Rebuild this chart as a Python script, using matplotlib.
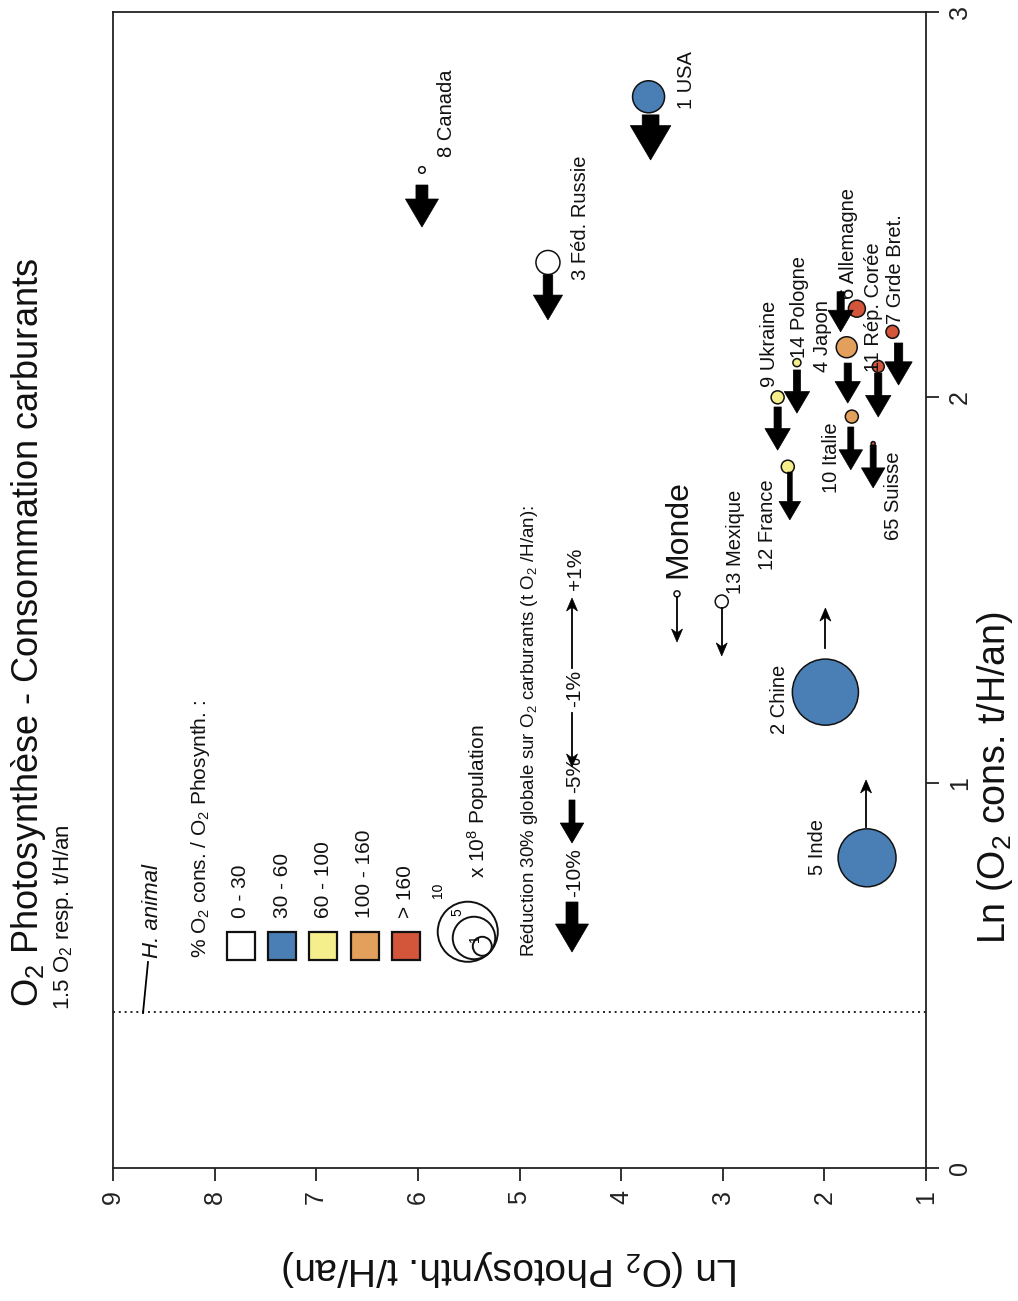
import numpy as np
import matplotlib
matplotlib.use("Agg")
import matplotlib.pyplot as plt
from matplotlib.patches import Polygon, Rectangle, Circle
from matplotlib.lines import Line2D
from matplotlib.transforms import IdentityTransform

plt.rcParams['font.family'] = ['Liberation Sans', 'DejaVu Sans']
plt.rcParams['mathtext.fontset'] = 'custom'
plt.rcParams['mathtext.rm'] = 'Liberation Sans'
plt.rcParams['mathtext.it'] = 'Liberation Sans:italic'
plt.rcParams['mathtext.bf'] = 'Liberation Sans:bold'

# ------------------------------------------------------------------ data
labels = ['1 USA', '8 Canada', '3 Féd. Russie', '9 Ukraine', '14 Pologne', '4 Japon',
          '6 Allemagne', '11 Rép. Corée', '7 Grde Bret.', '10 Italie', '65 Suisse',
          '12 France', '13 Mexique', 'Monde', '2 Chine', '5 Inde']
ln_photo = [3.73, 5.96, 4.72, 2.46, 2.27, 1.78, 1.68, 1.47, 1.33, 1.73, 1.52,
            2.36, 3.01, 3.45, 1.99, 1.58]
ln_cons = [2.78, 2.59, 2.35, 2.00, 2.09, 2.13, 2.23, 2.08, 2.17, 1.95, 1.88,
           1.82, 1.47, 1.49, 1.235, 0.805]
population = [2.84, 0.12, 1.6, 0.47, 0.18, 1.22, 0.8, 0.4, 0.47, 0.47, 0.045,
              0.47, 0.47, 0.1, 12.1, 9.3]          # x 10^8
pct_class = [1, 0, 0, 2, 2, 3, 4, 4, 4, 3, 4, 2, 0, 0, 1, 1]
variation = [-14, -10, -8, -6, -6, -6, -6, -6, -7, -5, -5, -4, -1, -1, 1, 1]   # %
arrow_photo = [3.71, 5.96, 4.72, 2.46, 2.27, 1.77, 1.84, 1.47, 1.27, 1.74, 1.52,
               2.34, 3.01, 3.45, 1.99, 1.59]
arrow_from = [2.733, 2.551, 2.318, 1.975, 2.071, 2.089, 2.274, 2.063, 2.141, 1.923,
              1.876, 1.806, 1.453, 1.482, 1.350, 0.885]
arrow_to = [2.616, 2.442, 2.201, 1.863, 1.959, 1.985, 2.170, 1.949, 2.032, 1.812,
            1.765, 1.682, 1.329, 1.365, 1.453, 1.007]

class_labels = ['0 - 30', '30 - 60', '60 - 100', '100 - 160', '> 160']
class_colors = ['#ffffff', '#4a7fb6', '#f4ee8c', '#e2a05c', '#d3553a']
legend_pops = [10, 5, 1]
legend_pop_labels = ['10', '5', '1']
legend_var = [-10, -5, -1, 1]
legend_var_labels = ['-10%', '-5%', '-1%', '+1%']
h_animal = np.log(1.5)
photo_ticks = [1, 2, 3, 4, 5, 6, 7, 8, 9]
cons_ticks = [0, 1, 2, 3]

# ------------------------------------------------------------------ figure
W, H = 1018, 1301
fig = plt.figure(figsize=(W / 100, H / 100), dpi=100)
fig.patch.set_facecolor('white')
L, R, T, B = 113, 926, 12, 1168
ax = fig.add_axes([L / W, 1 - B / H, (R - L) / W, (B - T) / H])
ax.set_xlim(9, 1)
ax.set_ylim(0, 3)
for s in ax.spines.values():
    s.set_linewidth(1.3)
    s.set_color('#222222')
ax.set_xticks(photo_ticks)
ax.set_xticklabels([str(t) for t in photo_ticks], rotation=90)
ax.yaxis.tick_right()
ax.set_yticks(cons_ticks)
ax.set_yticklabels([str(t) for t in cons_ticks], rotation=90, va='center')
ax.tick_params(direction='out', length=9, width=1.3, labelsize=18, colors='#222222', pad=7)

ax.axhline(h_animal, color='#222222', lw=1.4, ls=(0, (1, 2)), zorder=1)

def fx(x):
    return x / W

def fy(y):
    return 1 - y / H

def rtext(x, y, s, size=15, **kw):
    """rotated text starting at image pixel (x, y) and running upward"""
    fig.text(fx(x), fy(y), s, rotation=90, rotation_mode='anchor', ha='left',
             va='center', fontsize=size, color='#111111', **kw)

def arrow_px(x, y0, y1, v):
    """vertical arrow in display pixels from y0 (tail) to y1 (head)"""
    d = 1 if y1 > y0 else -1
    a = abs(v)
    if a <= 1:
        hw, hl = 11, 13
        fig.add_artist(Line2D([x, x], [y0, y1 - d * hl * 0.6], color='k', lw=1.3,
                              transform=IdentityTransform()))
        pts = [(x - hw / 2, y1 - d * hl), (x, y1), (x + hw / 2, y1 - d * hl),
               (x, y1 - d * hl * 0.7)]
    else:
        s = 1.2 * a
        hw = 14 + 1.9 * a
        hl = 12 + 1.6 * a
        pts = [(x - s / 2, y0), (x - s / 2, y1 - d * hl), (x - hw / 2, y1 - d * hl),
               (x, y1), (x + hw / 2, y1 - d * hl), (x + s / 2, y1 - d * hl),
               (x + s / 2, y0)]
    fig.add_artist(Polygon(pts, closed=True, fc='k', ec='k', lw=0.5,
                           transform=IdentityTransform(), zorder=5))

# ------------------------------------------------------------------ bubbles
sizes = [187.1 * p for p in population]
ax.scatter(ln_photo, ln_cons, s=sizes, c=[class_colors[k] for k in pct_class],
           edgecolors='#111111', linewidths=1.1, zorder=4, clip_on=False)

for xp, c0, c1, v in zip(arrow_photo, arrow_from, arrow_to, variation):
    x0, y0 = ax.transData.transform((xp, c0))
    _, y1 = ax.transData.transform((xp, c1))
    arrow_px(x0, y0, y1, v)

offsets = {'1 USA': (38, -12), '8 Canada': (25, 13), '3 Féd. Russie': (33, -18),
           '9 Ukraine': (-8, 10), '14 Pologne': (3, 5), '4 Japon': (-24, -25),
           '6 Allemagne': (-8, 10), '11 Rép. Corée': (-5, -5), '7 Grde Bret.': (3, 8),
           '10 Italie': (-20, -76), '65 Suisse': (20, -96), '12 France': (-20, -103),
           '13 Mexique': (14, 8), 'Monde': (1, 16), '2 Chine': (-46, -42),
           '5 Inde': (-50, -17)}
for lab, xp, yc in zip(labels, ln_photo, ln_cons):
    dx, dy = offsets[lab]
    big = lab == 'Monde'
    ax.annotate(lab, xy=(xp, yc), xytext=(dx, dy), textcoords='offset pixels',
                rotation=90, rotation_mode='anchor', ha='left', va='center',
                fontsize=23 if big else 14.5, color='#111111', zorder=6,
                annotation_clip=False)

# ------------------------------------------------------------------ titles
rtext(29, 1007, 'O$_2$ Photosynthèse - Consommation carburants', size=26)
rtext(64, 1010, '1.5 O$_2$ resp. t/H/an', size=16)
fig.text(fx(511), fy(1268), 'Ln (O$_2$ Photosynth. t/H/an)', rotation=180,
         ha='center', va='center', fontsize=28, color='#111111')
fig.text(fx(995), fy(778), 'Ln (O$_2$ cons. t/H/an)', rotation=90,
         ha='center', va='center', fontsize=27, color='#111111')

# H. animal
fig.add_artist(Line2D([fx(143), fx(148)], [fy(1013), fy(962)], color='k', lw=1.3))
rtext(152, 958, 'H. animal', size=16, style='italic')

# ------------------------------------------------------------------ legend
rtext(200, 958, '% O$_2$ cons. / O$_2$ Phosynth. :', size=15)
for i, (lab, col) in enumerate(zip(class_labels, class_colors)):
    xc = 241 + 41.2 * i
    fig.add_artist(Rectangle((xc - 14, H - 960), 28, 28, fc=col, ec='#111111', lw=1.6,
                             transform=IdentityTransform()))
    rtext(xc, 918, lab, size=15)

tx, ty = 489, 953   # common tangent point of the nested legend circles
for p in legend_pops:
    r = 9.5 * np.sqrt(p)
    cx, cy = tx - r * 0.707, ty - r * 0.707
    fig.add_artist(Circle((cx, H - cy), r, fc='none', ec='#111111', lw=1.4,
                          transform=IdentityTransform()))
for lab, (x, y) in zip(legend_pop_labels, [(438, 890), (457, 912), (475, 938)]):
    fig.text(fx(x), fy(y), lab, rotation=90, ha='center', va='center', fontsize=10)
rtext(478, 878, 'x 10$^8$ Population', size=15)

rtext(530, 957, 'Réduction 30% globale sur O$_2$ carburants (t O$_2$ /H/an):', size=13.5)
leg_arrows = [(902, 952), (800, 843), (713, 767), (668, 598)]
leg_text_y = [897, 793, 707, 590]
for v, lab, (y0, y1), yt in zip(legend_var, legend_var_labels, leg_arrows, leg_text_y):
    arrow_px(572, H - y0, H - y1, v)
    rtext(575, yt, lab, size=15)

fig.savefig('out.png', dpi=100, facecolor='white')
